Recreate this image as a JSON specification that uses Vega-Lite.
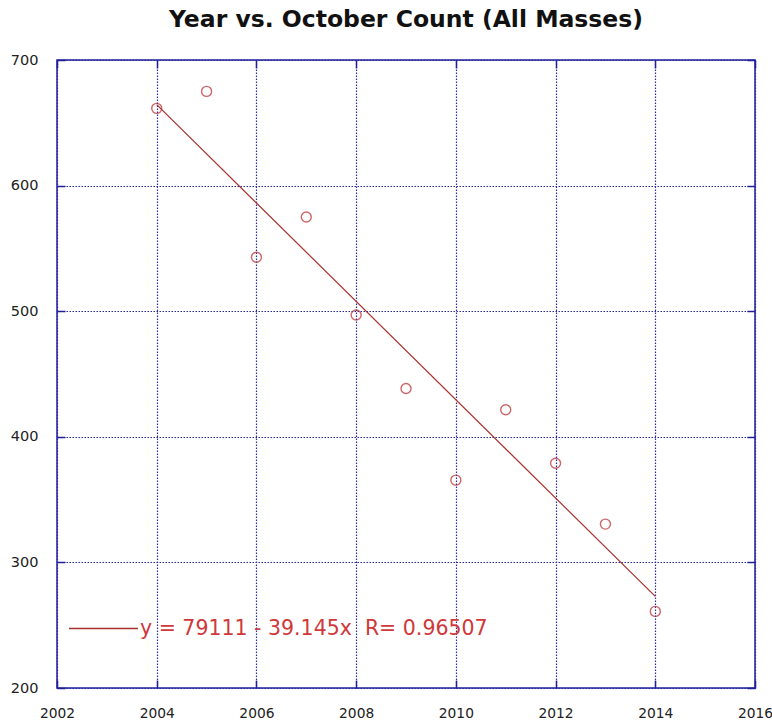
{
  "$schema": "https://vega.github.io/schema/vega-lite/v6.json",
  "autosize": "none",
  "width": 698,
  "height": 628,
  "padding": {"left": 57, "top": 60, "right": 17, "bottom": 34},
  "background": "white",
  "title": {
    "text": "Year vs. October Count (All Masses)",
    "font": "DejaVu Sans",
    "fontWeight": "bold",
    "fontSize": 23.5,
    "color": "#111111",
    "anchor": "middle",
    "offset": 21
  },
  "config": {
    "view": {"stroke": "#1f1f9a", "strokeWidth": 1.5},
    "axis": {
      "labelFont": "DejaVu Sans",
      "labelFontSize": 14.5,
      "labelColor": "#222222",
      "labelFlush": false,
      "labelOverlap": false,
      "title": null
    }
  },
  "datasets": {
    "obs": [
      {"year": 2004, "count": 661.5},
      {"year": 2005, "count": 675},
      {"year": 2006, "count": 543},
      {"year": 2007, "count": 575},
      {"year": 2008, "count": 497},
      {"year": 2009, "count": 438.5},
      {"year": 2010, "count": 365.5},
      {"year": 2011, "count": 421.5},
      {"year": 2012, "count": 379},
      {"year": 2013, "count": 330.5},
      {"year": 2014, "count": 261}
    ],
    "fit": [
      {"year": 2004, "count": 664.42, "label": "y = 79111 - 39.145x \u00a0R= 0.96507"},
      {"year": 2014, "count": 272.97, "label": "y = 79111 - 39.145x \u00a0R= 0.96507"}
    ]
  },
  "layer": [
    {
      "data": {"name": "obs"},
      "mark": {"type": "point", "shape": "circle", "filled": false, "size": 100, "strokeWidth": 1.4, "color": "#b8282a"},
      "encoding": {
        "x": {
          "field": "year", "type": "quantitative",
          "scale": {"domain": [2002, 2016], "nice": false, "zero": false},
          "axis": {
            "orient": "bottom", "values": [2002, 2004, 2006, 2008, 2010, 2012, 2014, 2016],
            "format": "d", "domain": false, "tickSize": -8, "tickColor": "#1f1f9a", "tickWidth": 1.5,
            "labelFontSize": 13.8,
            "labelPadding": 26, "grid": true, "gridColor": "#2a2aa0", "gridDash": [1.5, 1.5], "gridWidth": 1.2
          }
        },
        "y": {
          "field": "count", "type": "quantitative",
          "scale": {"domain": [200, 700], "nice": false, "zero": false},
          "axis": {
            "orient": "left", "values": [200, 300, 400, 500, 600, 700],
            "domain": false, "tickSize": -8, "tickColor": "#1f1f9a", "tickWidth": 1.5,
            "labelPadding": 27, "grid": true, "gridColor": "#2a2aa0", "gridDash": [1.5, 1.5], "gridWidth": 1.2
          }
        }
      }
    },
    {
      "data": {"name": "fit"},
      "mark": {"type": "line", "strokeWidth": 1.2},
      "encoding": {
        "x": {
          "field": "year", "type": "quantitative",
          "axis": {
            "orient": "top", "values": [2002, 2004, 2006, 2008, 2010, 2012, 2014, 2016],
            "labels": false, "domain": false, "grid": false,
            "tickSize": -8, "tickColor": "#1f1f9a", "tickWidth": 1.5
          }
        },
        "y": {
          "field": "count", "type": "quantitative",
          "axis": {
            "orient": "right", "values": [200, 300, 400, 500, 600, 700],
            "labels": false, "domain": false, "grid": false,
            "tickSize": -8, "tickColor": "#1f1f9a", "tickWidth": 1.5
          }
        },
        "color": {
          "field": "label", "type": "nominal",
          "scale": {"range": ["#a8302c"]},
          "legend": {
            "title": null,
            "orient": "none",
            "legendX": 11,
            "legendY": 533,
            "padding": 0,
            "symbolType": "stroke",
            "symbolSize": 4761,
            "symbolStrokeWidth": 1.3,
            "labelFont": "DejaVu Sans",
            "labelFontSize": 20.5,
            "labelColor": "#d0383a",
            "labelLimit": 700,
            "labelOffset": 1
          }
        }
      }
    }
  ],
  "resolve": {"axis": {"x": "independent", "y": "independent"}}
}
